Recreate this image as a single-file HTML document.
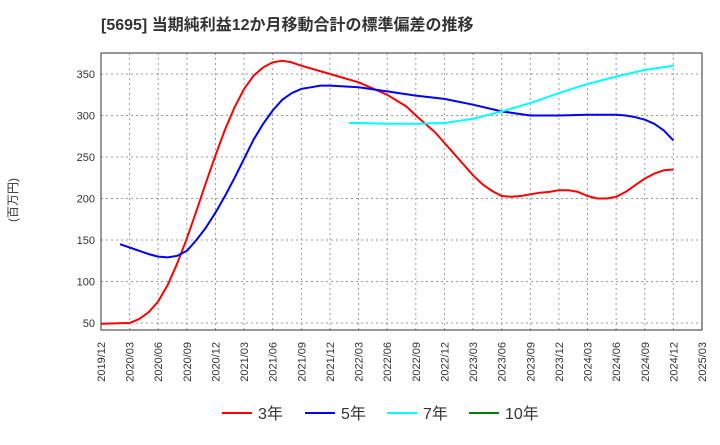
<!DOCTYPE html>
<html><head><meta charset="utf-8">
<style>
body{margin:0;background:#fff;width:720px;height:440px;overflow:hidden;font-family:"Liberation Sans","Noto Sans CJK JP",sans-serif;}
</style></head>
<body>
<svg id="chart" width="720" height="440" xmlns="http://www.w3.org/2000/svg">
<text x="101" y="30" font-size="16" font-weight="bold" fill="#333" font-family="Liberation Sans, Noto Sans CJK JP, sans-serif">[5695]  当期純利益12か月移動合計の標準偏差の推移</text>
<text transform="translate(17,200) rotate(-90)" text-anchor="middle" font-size="12" fill="#333" font-family="Liberation Sans, Noto Sans CJK JP, sans-serif">(百万円)</text>
<g id="grid"></g><g id="axes"></g><g id="series"></g><g id="legend"></g>
</svg>
<script>
const xTickLabels=["2019/12","2020/03","2020/06","2020/09","2020/12","2021/03","2021/06","2021/09","2021/12","2022/03","2022/06","2022/09","2022/12","2023/03","2023/06","2023/09","2023/12","2024/03","2024/06","2024/09","2024/12","2025/03"];
const yTicks=[50,100,150,200,250,300,350];
const s3Months=[0,3,4,5,6,7,8,9,10,11,12,13,14,15,16,17,18,19,20,21,24,27,30,31,32,33,34,35,36,37,38,39,40,41,42,43,44,45,46,47,48,49,50,51,52,53,54,55,56,57,58,59,60];
const s3Values=[49,50,55,63,76,96,122,152,185,219,252,283,310,332,348,358,364,366,364,360,350,340,325,318,311,300,290,280,267,254,241,228,217,209,203,202,203,205,207,208,210,210,208,203,200,200,202,208,216,224,230,234,235];
const s5Months=[2,3,4,5,6,7,8,9,10,11,12,13,14,15,16,17,18,19,20,21,22,23,24,27,30,33,36,39,42,45,48,51,54,55,56,57,58,59,60];
const s5Values=[145,141,137,133,130,129,131,137,150,165,183,203,225,248,271,290,306,319,327,332,334,336,336,334,329,324,320,313,305,300,300,301,301,300,298,295,290,282,270];
const s7Months=[26,27,30,33,36,39,42,45,48,51,54,57,60];
const s7Values=[291,291,290,290,291,296,305,315,327,338,347,355,360];
const legendNames=["3年","5年","7年","10年"];
const legendColors=["#ff0000","#0000ff","#00ffff","#008000"];
const L=101,R=702,T=53,B=330;
const xMonths=63;
const X=m=>L+(R-L)*m/xMonths;
const Y=v=>323-(v-50)*(249/300);
const NS="http://www.w3.org/2000/svg";
function mk(tag,attrs,parent){const e=document.createElementNS(NS,tag);for(const k in attrs)e.setAttribute(k,attrs[k]);parent.appendChild(e);return e;}
const grid=document.getElementById('grid'),axes=document.getElementById('axes'),ser=document.getElementById('series'),leg=document.getElementById('legend');
xTickLabels.forEach((t,i)=>{const x=X(i*3);
 if(i>0&&i<xTickLabels.length-1){const g=mk('line',{x1:x,x2:x,y1:T,y2:B,stroke:'#999','stroke-dasharray':'2,3','stroke-width':1},grid);
 
 }
 const tx=mk('text',{transform:`translate(${x+4},342) rotate(-90)`,'text-anchor':'end','font-size':11,fill:'#333'},axes);
 tx.textContent=t;
 
 
});
yTicks.forEach(v=>{const y=Y(v);
 const g=mk('line',{x1:L,x2:R,y1:y,y2:y,stroke:'#999','stroke-dasharray':'2,3','stroke-width':1},grid);
 
 
 const tx=mk('text',{x:L-6,y:y+4,'text-anchor':'end','font-size':11,fill:'#333'},axes);
 tx.textContent=v;
 
 
});
const fr=mk('rect',{x:L,y:T,width:R-L,height:B-T,fill:'none',stroke:'#333','stroke-width':1},axes);


function line(ms,vs,color,name){const d=ms.map((m,i)=>(i?'L':'M')+X(m).toFixed(1)+','+Y(vs[i]).toFixed(1)).join(' ');
 const p=mk('path',{d:d,fill:'none',stroke:color,'stroke-width':2,'stroke-linejoin':'round'},ser);
 
 }
line(s3Months,s3Values,legendColors[0],'series-3yr');
line(s5Months,s5Values,legendColors[1],'series-5yr');
line(s7Months,s7Values,legendColors[2],'series-7yr');
const lx=[222,305,387,469];
legendNames.forEach((n,i)=>{
 const g=mk('g',{},leg);
 
 
 mk('line',{x1:lx[i],x2:lx[i]+30,y1:413,y2:413,stroke:legendColors[i],'stroke-width':2},g);
 const t=mk('text',{x:lx[i]+36,y:419,'font-size':16,fill:'#333'},g);
 t.textContent=n;
});
</script>
</body></html>
